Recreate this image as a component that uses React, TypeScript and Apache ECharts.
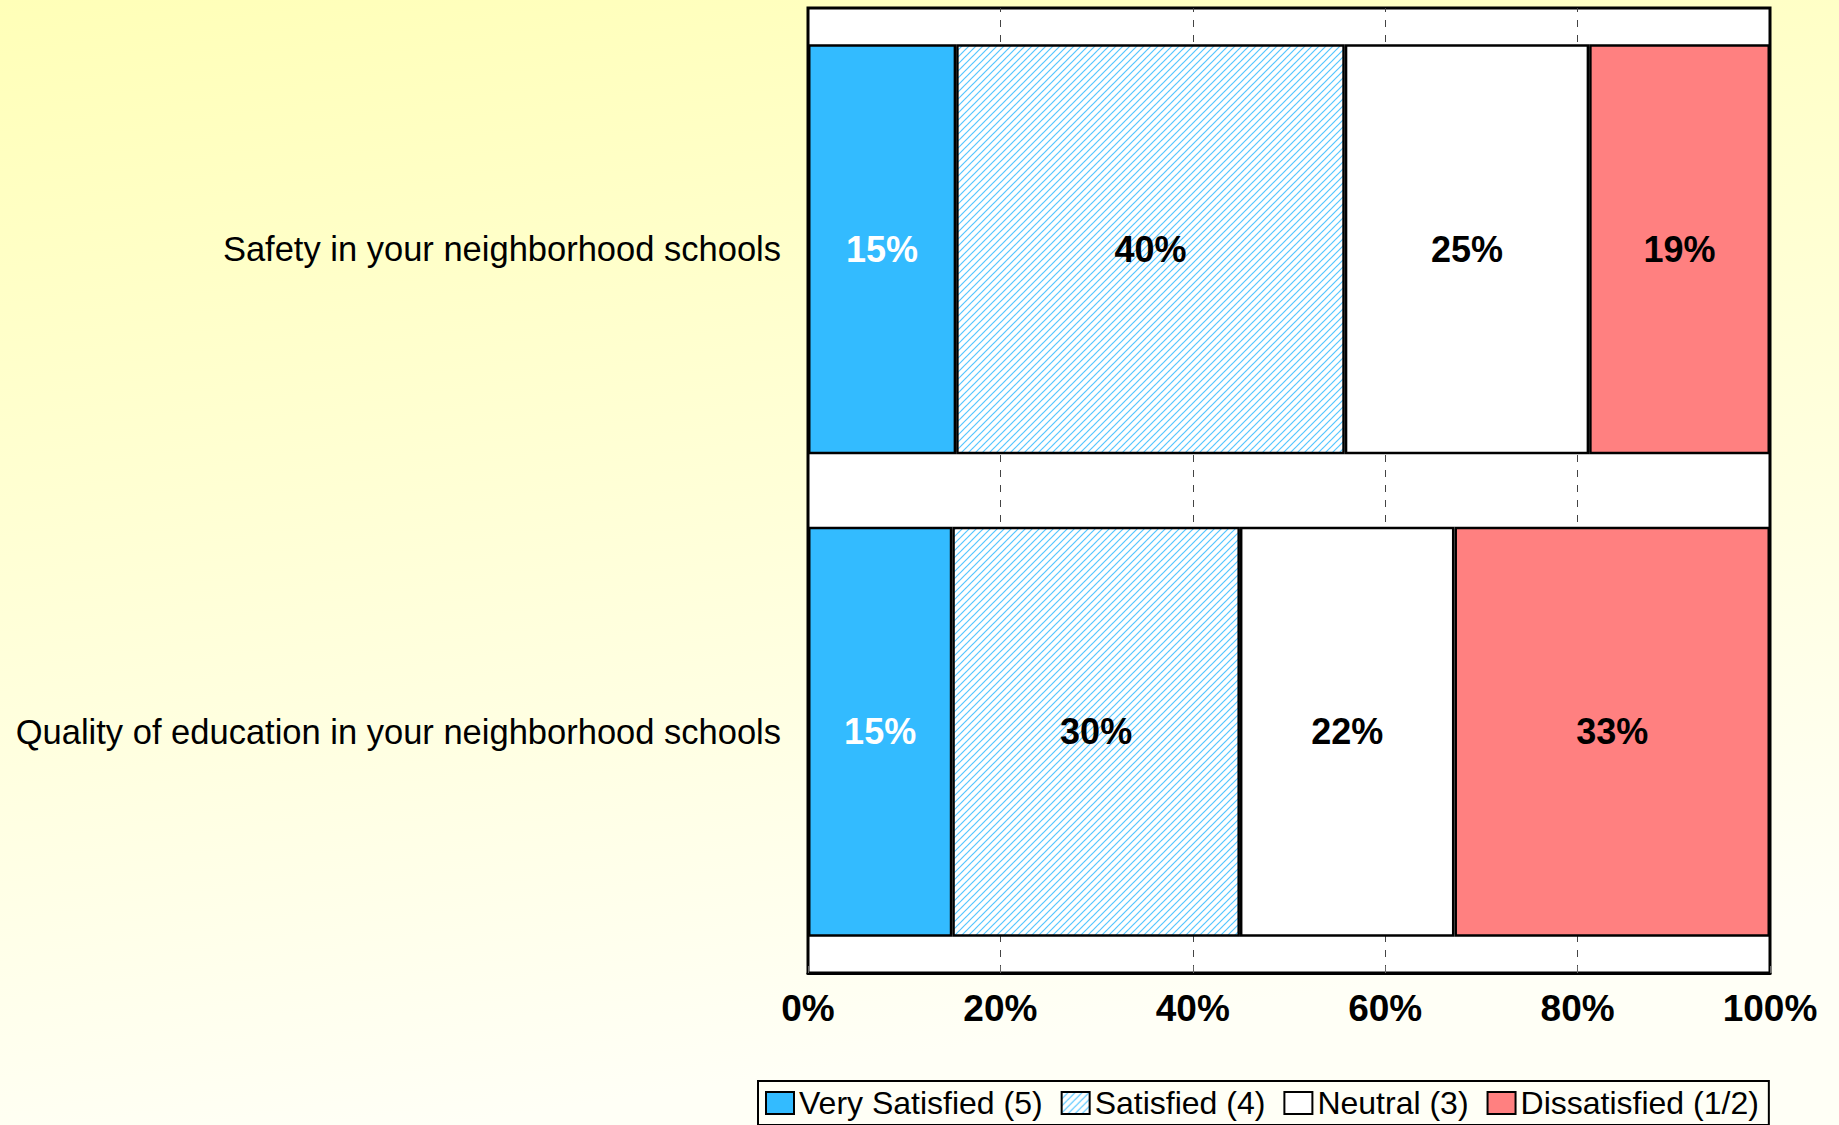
import React, { useEffect, useRef } from "react";
import * as echarts from "echarts";

const categories = [
  "Quality of education in your neighborhood schools",
  "Safety in your neighborhood schools",
];
const seriesNames = ["Very Satisfied (5)", "Satisfied (4)", "Neutral (3)", "Dissatisfied (1/2)"];
const verySatisfied = [15.0, 15.4];
const satisfied = [29.9, 40.4];
const neutral = [22.3, 25.4];
const dissatisfied = [32.8, 18.8];
const xTickStep = 20;
const xMin = 0;
const xMax = 100;

function makeHatch(): HTMLCanvasElement {
  const s = 7;
  const c = document.createElement("canvas");
  c.width = s;
  c.height = s;
  const ctx = c.getContext("2d")!;
  ctx.fillStyle = "#ffffff";
  ctx.fillRect(0, 0, s, s);
  ctx.strokeStyle = "#55c6ff";
  ctx.lineWidth = 1.2;
  for (const off of [-s, 0, s]) {
    ctx.beginPath();
    ctx.moveTo(off - 1, s + 1);
    ctx.lineTo(off + s + 1, -1);
    ctx.stroke();
  }
  return c;
}

export default function App() {
  const ref = useRef<HTMLDivElement>(null);
  useEffect(() => {
    document.body.style.margin = "0";
    const chart = echarts.init(ref.current!, undefined, { renderer: "svg" });
    const font = "'Liberation Sans', Arial, sans-serif";
    const hatch = makeHatch();
    const labelBase = {
      show: true,
      position: "inside",
      fontFamily: font,
      fontWeight: "bold",
      fontSize: 36,
      formatter: (p: any) => Math.round(p.value) + "%",
    };
    const colors: any[] = [
      "#33BBFF",
      { image: hatch, repeat: "repeat", imageWidth: 7, imageHeight: 7 },
      "#FFFFFF",
      "#FF8080",
    ];
    const datas = [verySatisfied, satisfied, neutral, dissatisfied];
    chart.setOption({
      animation: false,
      backgroundColor: {
        type: "linear",
        x: 0,
        y: 0,
        x2: 0.25,
        y2: 1,
        colorStops: [
          { offset: 0, color: "#FFFFB8" },
          { offset: 1, color: "#FFFFF6" },
        ],
      },
      grid: {
        left: 808,
        right: 69,
        top: 8,
        bottom: 152,
        show: true,
        backgroundColor: "#FFFFFF",
        borderColor: "#000000",
        borderWidth: 3,
      },
      legend: {
        left: 758,
        top: 1081,
        orient: "horizontal",
        icon: "rect",
        itemWidth: 28,
        itemHeight: 22,
        itemGap: 18,
        padding: [6, 10, 6, 7],
        borderColor: "#000000",
        borderWidth: 2,
        itemStyle: { borderColor: "#000000", borderWidth: 2 },
        textStyle: { fontFamily: font, fontSize: 32, color: "#000000" },
        data: seriesNames,
      },
      xAxis: {
        type: "value",
        min: xMin,
        max: xMax,
        interval: xTickStep,
        axisLine: { show: true, lineStyle: { color: "#000000", width: 3 } },
        axisTick: { show: true, inside: true, length: 7, lineStyle: { color: "#666666", width: 1 } },
        axisLabel: {
          formatter: "{value}%",
          fontFamily: font,
          fontWeight: "bold",
          fontSize: 37,
          color: "#000000",
          margin: 17,
        },
        splitLine: {
          show: true,
          showMinLine: false,
          showMaxLine: false,
          lineStyle: { color: "#444444", width: 1, type: [7, 8], dashOffset: 3 },
        },
      },
      yAxis: {
        type: "category",
        data: categories,
        axisLine: { show: false },
        axisTick: { show: false },
        axisLabel: {
          fontFamily: font,
          fontSize: 34.5,
          color: "#000000",
          margin: 27,
        },
      },
      series: datas.map((d, i) => ({
        type: "bar",
        name: seriesNames[i],
        stack: "total",
        barCategoryGap: "15%",
        data: d,
        itemStyle: { color: colors[i], borderColor: "#000000", borderWidth: 2.5 },
        label: { ...labelBase, color: i === 0 ? "#FFFFFF" : "#000000" },
      })),
    });
    return () => chart.dispose();
  }, []);
  return <div ref={ref} style={{ width: 1839, height: 1125 }} />;
}
